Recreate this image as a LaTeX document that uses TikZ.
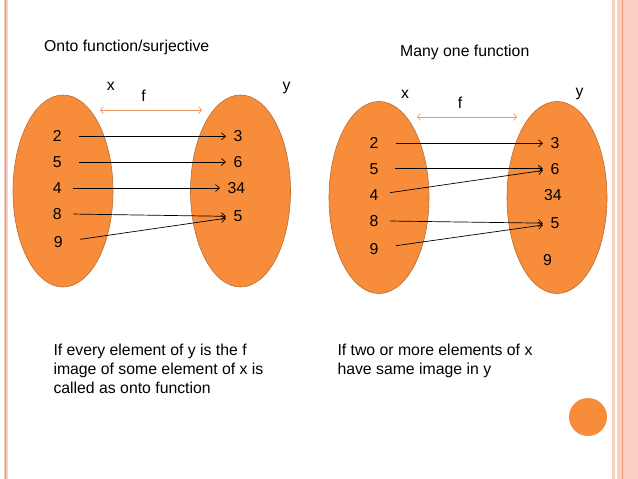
\documentclass[tikz,border=0pt]{standalone}
\usepackage{fontspec}
\setmainfont{Liberation Sans}
\usepackage{xcolor}
\usepackage{tikz}
\usetikzlibrary{arrows.meta, shapes.geometric}
\definecolor{fn-orange}{RGB}{247,140,58}
\definecolor{fn-edge}{RGB}{182,109,49}
\definecolor{fn-light}{RGB}{236,150,100}
\definecolor{fn-band}{RGB}{250,208,194}
\definecolor{fn-line}{RGB}{232,150,120}
\newcommand\fnfont{\fontsize{15.8}{19}\selectfont}
\tikzset{
  fn@set/.style={
    ellipse, draw=fn-edge, fill=fn-orange, line width=0.6pt,
    minimum width=100pt, minimum height=192pt, inner sep=0pt
  },
  fn@num/.style={inner sep=2pt, font=\fnfont},
  fn@ttl/.style={inner sep=0pt, anchor=base west, font=\fnfont},
  fn@txt/.style={inner sep=0pt, anchor=north west, align=left, font=\fnfont},
  fn@arr/.style={-{Straight Barb[length=4pt, width=7pt]}, line width=0.7pt,
    shorten <=15.5pt, shorten >=5.5pt},
  fn@map/.style={{Straight Barb[length=3pt, width=7pt]}-{Straight Barb[length=3pt, width=7pt]},
    line width=0.7pt, fn-light},
}

\begin{document}
\begin{tikzpicture}[x=1pt, y=-1pt]
  \useasboundingbox (0,0) rectangle (638,479);
  % slide borders
  \fill[fn-band] (3.5,0) rectangle (7.5,479);
  \draw[fn-line, line width=0.6pt] (5.3,0) -- (5.3,479);
  \fill[fn-band] (611.7,0) rectangle (615,479);
  \fill[fn-band] (617,0) rectangle (638,479);
  \draw[fn-line, line width=0.8pt] (622.5,0) -- (622.5,479);
  \fill[fn-orange] (588,417) circle (19);

  % onto function
  \node[fn@ttl] (onto) at (44,51.7) {Onto function/surjective};
  \node[fn@set] (ontoX) at (63,191) {};
  \node[fn@set] (ontoY) at (240.5,191) {};
  \node[fn@num] (lx) at (110.8,86.3) {x};
  \node[fn@num] (ly) at (286.5,87.5) {y};
  \node[fn@num] (lf) at (143.5,95.5) {f};
  \coordinate (fl) at (100,110);
  \coordinate (fr) at (202,110);
  \draw[fn@map] (fl) -- (fr);
  \node[fn@num] (a2) at (57.2,136.3) {2};
  \node[fn@num] (a5) at (57.2,162) {5};
  \node[fn@num] (a4) at (57.2,188) {4};
  \node[fn@num] (a8) at (57.2,213.8) {8};
  \node[fn@num] (a9) at (58.3,242.5) {9};
  \node[fn@num] (b3) at (238,136.3) {3};
  \node[fn@num] (b6) at (238,162) {6};
  \node[fn@num] (b34) at (236.5,188) {34};
  \node[fn@num] (b5) at (238,216.5) {5};
  \draw[fn@arr] (a2) -- (b3);
  \draw[fn@arr] (a5) -- (b6);
  \draw[fn@arr, shorten <=9.5pt] (a4) -- (b34);
  \draw[fn@arr, shorten <=9.5pt] (a8) -- (b5);
  \draw[fn@arr] (a9) -- (b5);
  \node[fn@txt] (ontoTxt) at (53.3,343.4) {If every element of y is the f\\image of some element of x is\\called as onto function};

  % many one function
  \node[fn@ttl] (many) at (400,56.5) {Many one function};
  \node[fn@set] (manyX) at (379,197.5) {};
  \node[fn@set] (manyY) at (557,197.5) {};
  \node[fn@num] (mx) at (405,94) {x};
  \node[fn@num] (my) at (579.5,93.7) {y};
  \node[fn@num] (mf) at (460,103) {f};
  \coordinate (gl) at (417,117);
  \coordinate (gr) at (517,117);
  \draw[fn@map] (gl) -- (gr);
  \node[fn@num] (c2) at (374,143.3) {2};
  \node[fn@num] (c5) at (374,168.7) {5};
  \node[fn@num] (c4) at (374,195) {4};
  \node[fn@num] (c8) at (374,220.8) {8};
  \node[fn@num] (c9) at (374,248.8) {9};
  \node[fn@num] (d3) at (555,143.3) {3};
  \node[fn@num] (d6) at (555,168.7) {6};
  \node[fn@num] (d34) at (552.8,195) {34};
  \node[fn@num] (d5) at (555,223.3) {5};
  \node[fn@num] (d9) at (547.5,260) {9};
  \draw[fn@arr] (c2) -- (d3);
  \draw[fn@arr, shorten <=14.5pt] (c5) -- (d6);
  \draw[fn@arr, shorten <=9.5pt] (c4) -- (d6);
  \draw[fn@arr, shorten <=9.5pt] (c8) -- (d5);
  \draw[fn@arr] (c9) -- (d5);
  \node[fn@txt] (manyTxt) at (337.3,343.4) {If two or more elements of x\\have same image in y};
\end{tikzpicture}
\end{document}
